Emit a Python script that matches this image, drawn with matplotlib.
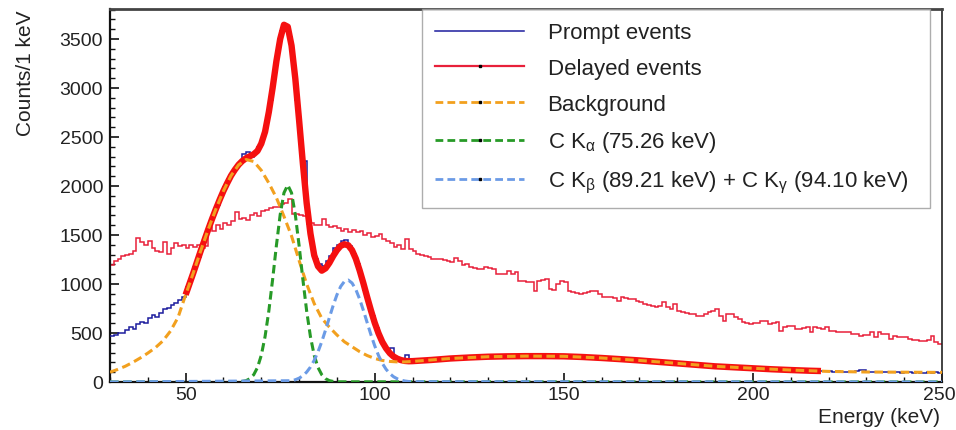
import numpy as np
import matplotlib
matplotlib.use("Agg")
import matplotlib.pyplot as plt
from matplotlib.lines import Line2D
from matplotlib.transforms import ScaledTranslation

plt.rcParams['font.family'] = ['Liberation Sans', 'DejaVu Sans']
plt.rcParams['mathtext.fontset'] = 'custom'
plt.rcParams['mathtext.rm'] = 'Liberation Sans'
plt.rcParams['mathtext.it'] = 'Liberation Sans:italic'

# 1 keV bins from 30 to 250 keV
edges = np.arange(30, 251)

# delayed events, counts per bin (30..249 keV)
delayed = [
    1190, 1230, 1255, 1290, 1300, 1310, 1335, 1470, 1430, 1400,
    1440, 1370, 1340, 1330, 1430, 1310, 1370, 1420, 1390, 1400,
    1370, 1400, 1380, 1400, 1370, 1390, 1580, 1540, 1600, 1560,
    1620, 1600, 1640, 1730, 1660, 1670, 1650, 1700, 1720, 1690,
    1740, 1760, 1780, 1790, 1790, 1820, 1830, 1870, 1710, 1710,
    1700, 1690, 1610, 1620, 1600, 1600, 1660, 1600, 1580, 1590,
    1570, 1545, 1560, 1530, 1550, 1530, 1540, 1495, 1520, 1480,
    1490, 1510, 1460, 1440, 1420, 1380, 1400, 1360, 1460, 1360,
    1340, 1310, 1300, 1290, 1280, 1260, 1260, 1250, 1240, 1230,
    1225, 1270, 1230, 1190, 1200, 1170, 1165, 1150, 1155, 1170,
    1160, 1150, 1102, 1100, 1105, 1136, 1100, 1120, 1034, 1030,
    1020, 1017, 932, 1034, 1040, 1050, 950, 940, 1000, 1034,
    1020, 932, 915, 910, 898, 910, 920, 932, 932, 900,
    864, 870, 864, 860, 830, 864, 860, 850, 847, 830,
    813, 796, 790, 779, 762, 780, 813, 770, 745, 796,
    728, 711, 705, 694, 690, 677, 677, 690, 711, 728,
    745, 677, 626, 694, 694, 660, 643, 609, 600, 592,
    600, 600, 626, 626, 592, 600, 609, 524, 558, 570,
    575, 541, 541, 550, 558, 507, 558, 550, 540, 558,
    524, 524, 515, 507, 507, 507, 490, 490, 473, 480,
    480, 507, 456, 507, 490, 490, 439, 473, 456, 456,
    456, 439, 430, 430, 422, 422, 430, 473, 405, 388,
]

# prompt events, counts per bin (30..249 keV)
prompt = [
    470, 480, 500, 495, 530, 560, 545, 590, 610, 600,
    650, 680, 665, 700, 740, 760, 790, 810, 840, 870,
    970, 1055, 1170, 1280, 1395, 1505, 1610, 1715, 1810, 1905,
    1990, 2070, 2135, 2190, 2240, 2330, 2350, 2300, 2340, 2395,
    2490, 2650, 2880, 3140, 3380, 3580, 3600, 3520, 3260, 2880,
    2450, 2250, 1700, 1420, 1260, 1200, 1180, 1230, 1290, 1370,
    1400, 1440, 1445, 1390, 1310, 1200, 1080, 940, 800, 670,
    550, 455, 380, 325, 350, 250, 235, 225, 280, 215,
    220, 210, 225, 230, 215, 228, 235, 225, 240, 245,
    238, 250, 242, 255, 248, 252, 262, 250, 265, 255,
    260, 270, 255, 262, 268, 258, 265, 272, 260, 266,
    270, 258, 268, 262, 275, 260, 265, 258, 270, 262,
    255, 265, 258, 250, 262, 252, 258, 245, 250, 242,
    248, 240, 236, 242, 230, 235, 226, 230, 220, 225,
    215, 218, 210, 205, 212, 200, 204, 196, 190, 195,
    186, 190, 180, 184, 175, 178, 170, 166, 172, 160,
    164, 156, 160, 150, 154, 148, 145, 150, 140, 144,
    138, 134, 140, 130, 134, 128, 132, 124, 126, 120,
    124, 118, 122, 115, 118, 112, 116, 110, 112, 108,
    110, 105, 108, 104, 106, 102, 105, 108, 122, 120,
    104, 100, 103, 98, 102, 100, 97, 101, 99, 96,
    100, 97, 95, 99, 96, 94, 98, 95, 100, 96,
]

# background component of the fit
e_bg = list(range(30, 111, 2)) + list(range(120, 251, 10))
bg = [
    100, 128, 160, 200, 245, 295, 350, 420, 520, 660,
    890, 1110, 1340, 1560, 1765, 1950, 2105, 2215, 2270, 2250,
    2160, 2030, 1880, 1690, 1490, 1240, 1000, 800, 650, 560,
    480, 410, 360, 310, 270, 240, 220, 210, 205, 205,
    210,
    240, 258, 264, 262, 245, 220, 190, 160, 140, 122,
    108, 102, 100, 98,
]

# C K-alpha line
e_ka = [30] + list(range(64, 91)) + [250]
k_alpha = [
    0,
    2, 6, 14, 34, 74, 148, 272, 463, 725, 1046,
    1393, 1707, 1930, 2010, 1930, 1707, 1393, 1046, 725, 463,
    272, 148, 74, 34, 14, 6, 2,
    0,
]

# C K-beta + K-gamma lines
e_kb = [30] + list(range(78, 111)) + [250]
k_beta = [
    0,
    13, 23, 39, 64, 101, 152, 221, 308, 412, 531,
    656, 779, 889, 975, 1027, 1040, 1010, 944, 847, 731,
    606, 482, 369, 271, 191, 130, 85, 53, 32, 18,
    10, 5, 3,
    0,
]

# total fit over the fit range
e_fit = list(range(50, 111)) + list(range(115, 216, 5)) + [218]
fit = [
    890, 1000, 1110, 1225, 1340, 1450, 1560, 1665, 1765, 1860,
    1950, 2030, 2105, 2165, 2217, 2256, 2284, 2304, 2324, 2358,
    2432, 2553, 2755, 3001, 3273, 3500, 3645, 3625, 3433, 3095,
    2672, 2230, 1826, 1515, 1293, 1181, 1136, 1160, 1215, 1285,
    1345, 1390, 1405, 1395, 1345, 1258, 1140, 1008, 866, 730,
    604, 497, 409, 344, 294, 259, 237, 223, 215, 212,
    213,
    225, 240, 250, 258, 262, 264, 264, 262, 255, 245,
    233, 220, 205, 190, 175, 160, 150, 140, 130, 122,
    115, 112,
]

c_prompt = '#1c1c9e'
c_delayed = '#e8203a'
c_fit = '#f51010'
c_bg = '#f2a01e'
c_ka = '#279a27'
c_kb = '#6b9be6'
dash = (0, (2.8, 1.5))

fig = plt.figure(figsize=(9.56, 4.31), dpi=100)
ax = fig.add_axes([110 / 956, 1 - 383 / 431, 832 / 956, 373 / 431])

ax.stairs(delayed, edges, baseline=None, color=c_delayed, lw=1.1, zorder=2)
ax.stairs(prompt, edges, baseline=None, color=c_prompt, lw=1.1, zorder=3)
ax.plot(e_fit, fit, color=c_fit, lw=4.6, solid_capstyle='butt', zorder=4)
ax.plot(e_bg, bg, color=c_bg, lw=2.2, ls=dash, zorder=5)
ax.plot(e_ka, k_alpha, color=c_ka, lw=2.2, ls=dash, zorder=5)
ax.plot(e_kb, k_beta, color=c_kb, lw=2.2, ls=dash, zorder=5)

ax.set_xlim(30, 250)
ax.set_ylim(0, 3806)
ax.set_xticks([50, 100, 150, 200, 250])
ax.set_xticks(np.arange(30, 251, 10), minor=True)
ax.set_yticks(np.arange(0, 3501, 500))
ax.set_yticks(np.arange(0, 3801, 100), minor=True)
ax.tick_params(which='both', direction='in', top=False, right=False,
               colors='#111', labelcolor='#222', labelsize=14)
ax.tick_params(which='major', length=6.5, width=1.2)
ax.tick_params(which='minor', length=3.4, width=1.0)
ax.tick_params(axis='y', pad=5)
ax.tick_params(axis='x', pad=3)

# last x label sits against the figure edge, nudge it in a little
last = ax.xaxis.get_major_ticks()[-1].label1
last.set_transform(last.get_transform()
                   + ScaledTranslation(-0.03, 0, fig.dpi_scale_trans))

for side in ['left', 'bottom']:
    ax.spines[side].set_linewidth(1.6)
    ax.spines[side].set_color('#111')
ax.spines['top'].set_linewidth(2.0)
ax.spines['top'].set_color('#444')
ax.spines['right'].set_linewidth(1.2)
ax.spines['right'].set_color('#222')

fig.text(26 / 956, 1 - 10 / 431, 'Counts/1 keV', rotation=90,
         ha='center', va='top', fontsize=15, color='#222')
fig.text(940 / 956, 1 - 418 / 431, 'Energy (keV)',
         ha='right', va='center', fontsize=15, color='#222')

handles = [
    Line2D([], [], color=c_prompt, lw=1.1),
    Line2D([], [], color=c_delayed, lw=1.6, marker='s', ms=1.6, mfc='k', mec='k'),
    Line2D([], [], color=c_bg, lw=2.0, ls=dash, marker='s', ms=1.6, mfc='k', mec='k'),
    Line2D([], [], color=c_ka, lw=2.0, ls=dash, marker='s', ms=1.6, mfc='k', mec='k'),
    Line2D([], [], color=c_kb, lw=2.0, ls=dash, marker='s', ms=1.6, mfc='k', mec='k'),
]
labels = [
    'Prompt events',
    'Delayed events',
    'Background',
    r'C K$_{\mathrm{\alpha}}$ (75.26 keV)',
    r'C K$_{\mathrm{\beta}}$ (89.21 keV) + C K$_{\mathrm{\gamma}}$ (94.10 keV)',
]
leg = ax.legend(handles, labels, loc='upper left',
                bbox_to_anchor=(0.375, 1.0, 0.611, 0.0), mode='expand',
                borderaxespad=0, fontsize=16, numpoints=1,
                handlelength=4.0, handletextpad=1.05, labelspacing=0.66,
                borderpad=0.6, frameon=True, fancybox=False)
leg.get_frame().set_edgecolor('#999')
leg.get_frame().set_linewidth(1.0)
for t in leg.get_texts():
    t.set_color('#222')

fig.savefig('out.png', dpi=100)
